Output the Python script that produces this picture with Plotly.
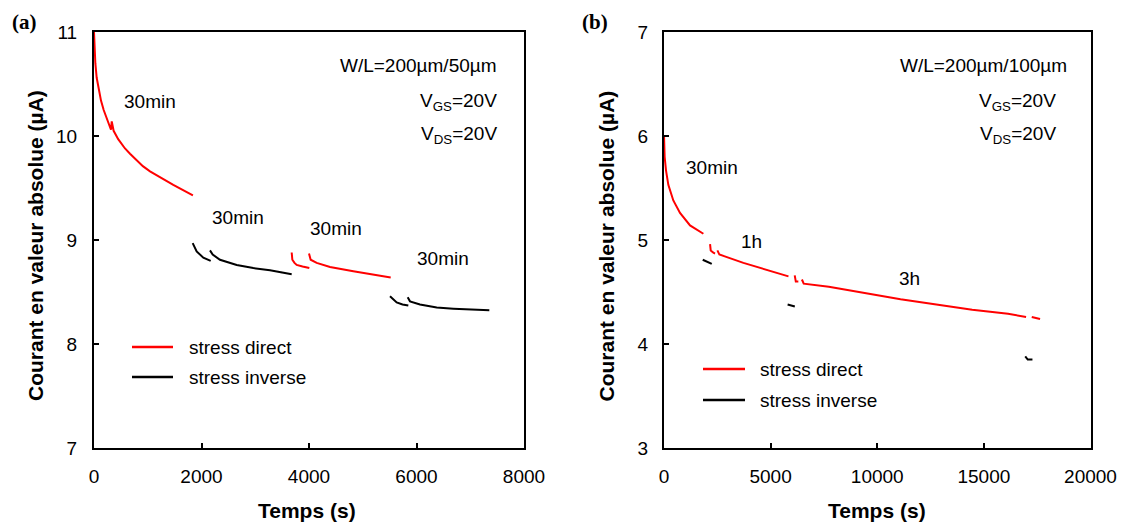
import plotly.graph_objects as go

W, H = 1122, 524

# ---------------- Panel (a) data: W/L = 200um/50um ----------------
a_direct_1_t = [0, 10, 25, 50, 80, 130, 180, 240, 316, 330, 345, 365, 450, 577, 670, 909, 1042, 1241, 1475, 1840]
a_direct_1_i = [11.0, 10.85, 10.70, 10.56, 10.46, 10.34, 10.25, 10.16, 10.06, 10.14, 10.09, 10.05, 9.97, 9.88, 9.83, 9.71, 9.66, 9.60, 9.53, 9.43]
a_direct_2_t = [3678, 3690, 3730, 3771, 3880, 4006]
a_direct_2_i = [8.88, 8.81, 8.78, 8.76, 8.745, 8.73]
a_direct_3_t = [4000, 4031, 4143, 4391, 4825, 5135, 5520]
a_direct_3_i = [8.87, 8.81, 8.78, 8.74, 8.70, 8.67, 8.64]

a_inverse_1_t = [1836, 1870, 1910, 2034, 2171]
a_inverse_1_i = [8.97, 8.93, 8.89, 8.83, 8.80]
a_inverse_2_t = [2158, 2208, 2344, 2655, 2964, 3274, 3678]
a_inverse_2_i = [8.90, 8.86, 8.81, 8.76, 8.73, 8.71, 8.67]
a_inverse_3_t = [5507, 5570, 5631, 5740, 5848]
a_inverse_3_i = [8.46, 8.43, 8.40, 8.38, 8.37]
a_inverse_4_t = [5836, 5879, 6065, 6376, 6686, 6996, 7355]
a_inverse_4_i = [8.45, 8.41, 8.38, 8.35, 8.34, 8.33, 8.325]

# ---------------- Panel (b) data: W/L = 200um/100um ----------------
b_direct_1_t = [0, 30, 94, 203, 437, 751, 1221, 1847]
b_direct_1_i = [6.01, 5.80, 5.67, 5.53, 5.38, 5.26, 5.14, 5.06]
b_direct_2_t = [2160, 2191, 2300, 2394]
b_direct_2_i = [4.96, 4.90, 4.88, 4.87]
b_direct_3_t = [2503, 2597, 3724, 4977, 5837]
b_direct_3_i = [4.90, 4.86, 4.78, 4.70, 4.65]
b_direct_4_t = [6130, 6181, 6300]
b_direct_4_i = [4.66, 4.60, 4.60]
b_direct_5_t = [6467, 6552, 7729, 9413, 11092, 12771, 14453, 16134, 16979]
b_direct_5_i = [4.62, 4.58, 4.55, 4.49, 4.43, 4.38, 4.33, 4.29, 4.26]
b_direct_6_t = [17245, 17635]
b_direct_6_i = [4.26, 4.24]

b_inverse_1_t = [1816, 2030, 2239]
b_inverse_1_i = [4.81, 4.79, 4.77]
b_inverse_2_t = [5797, 5960, 6134]
b_inverse_2_i = [4.38, 4.37, 4.36]
b_inverse_3_t = [16940, 17000, 17057, 17278]
b_inverse_3_i = [3.88, 3.86, 3.85, 3.85]

# ---------------- labels ----------------
x_title = "Temps (s)"
y_title = "Courant en valeur absolue (µA)"
legend_names = ["stress direct", "stress inverse"]
a_wl = "W/L=200µm/50µm"
b_wl = "W/L=200µm/100µm"
vgs = "V<sub>GS</sub>=20V"
vds = "V<sub>DS</sub>=20V"
a_durations = ["30min", "30min", "30min", "30min"]
a_duration_t = [1042, 2688, 4497, 6484]
a_duration_i = [10.33, 9.22, 9.11, 8.82]
b_durations = ["30min", "1h", "3h"]
b_duration_t = [2254, 4085, 11503]
b_duration_i = [5.70, 4.99, 4.63]

RED = "#ff0000"
BLACK = "#000000"
FONT = "Liberation Sans, Arial, sans-serif"


def join(segs):
    xs, ys = [], []
    for t, i in segs:
        if xs:
            xs.append(None)
            ys.append(None)
        xs.extend(t)
        ys.extend(i)
    return xs, ys


fig = go.Figure()

ax, ay = join([(a_direct_1_t, a_direct_1_i), (a_direct_2_t, a_direct_2_i), (a_direct_3_t, a_direct_3_i)])
fig.add_trace(go.Scatter(x=ax, y=ay, mode="lines", line=dict(color=RED, width=2), name=legend_names[0],
                         xaxis="x", yaxis="y", showlegend=False, connectgaps=False))
ax, ay = join([(a_inverse_1_t, a_inverse_1_i), (a_inverse_2_t, a_inverse_2_i),
               (a_inverse_3_t, a_inverse_3_i), (a_inverse_4_t, a_inverse_4_i)])
fig.add_trace(go.Scatter(x=ax, y=ay, mode="lines", line=dict(color=BLACK, width=2), name=legend_names[1],
                         xaxis="x", yaxis="y", showlegend=False, connectgaps=False))

bx, by = join([(b_direct_1_t, b_direct_1_i), (b_direct_2_t, b_direct_2_i), (b_direct_3_t, b_direct_3_i),
               (b_direct_4_t, b_direct_4_i), (b_direct_5_t, b_direct_5_i), (b_direct_6_t, b_direct_6_i)])
fig.add_trace(go.Scatter(x=bx, y=by, mode="lines", line=dict(color=RED, width=2), name=legend_names[0],
                         xaxis="x2", yaxis="y2", showlegend=False, connectgaps=False))
bx, by = join([(b_inverse_1_t, b_inverse_1_i), (b_inverse_2_t, b_inverse_2_i), (b_inverse_3_t, b_inverse_3_i)])
fig.add_trace(go.Scatter(x=bx, y=by, mode="lines", line=dict(color=BLACK, width=2), name=legend_names[1],
                         xaxis="x2", yaxis="y2", showlegend=False, connectgaps=False))


def px(x):
    return x / W


def py(y):
    return 1 - y / H


axis_common = dict(showline=True, linecolor="black", linewidth=2, mirror=True, ticks="inside", ticklen=5,
                   tickwidth=1.5, tickcolor="black", showgrid=False, zeroline=False, automargin=False,
                   tickformat="d",
                   tickfont=dict(family=FONT, size=19, color="black"))

fig.update_layout(
    template="none",
    width=W, height=H, autosize=False, margin=dict(l=0, r=0, t=0, b=0, pad=0),
    paper_bgcolor="white", plot_bgcolor="white",
    xaxis=dict(domain=[px(94), px(524)], range=[0, 8000], dtick=2000, anchor="y", ticklabelstandoff=10,
               **axis_common),
    yaxis=dict(domain=[py(448), py(32)], range=[7, 11], dtick=1, anchor="x", ticklabelstandoff=11,
               **axis_common),
    xaxis2=dict(domain=[px(664), px(1090.5)], range=[0, 20000], dtick=5000, anchor="y2", ticklabelstandoff=10,
                **axis_common),
    yaxis2=dict(domain=[py(448), py(32)], range=[3, 7], dtick=1, anchor="x2", ticklabelstandoff=10,
                **axis_common),
)

ann = []
txtfont = dict(family=FONT, size=19, color="black")
boldfont = dict(family=FONT, size=21, color="black", weight="bold")

# axis titles
for xc in (307, 877):
    ann.append(dict(text=x_title, x=px(xc), y=py(510), xref="paper", yref="paper", showarrow=False,
                    font=boldfont, xanchor="center", yanchor="middle"))
for xc in (36, 606.5):
    ann.append(dict(text=y_title, x=px(xc), y=py(246), xref="paper", yref="paper", showarrow=False,
                    font=boldfont, textangle=-90, xanchor="center", yanchor="middle"))
# panel letters
serif = dict(family="Liberation Serif, Times New Roman, serif", size=21, color="black", weight="bold")
ann.append(dict(text="(a)", x=px(10), y=py(22), xref="paper", yref="paper", showarrow=False,
                font=serif, xanchor="left", yanchor="middle"))
ann.append(dict(text="(b)", x=px(580), y=py(22), xref="paper", yref="paper", showarrow=False,
                font=serif, xanchor="left", yanchor="middle"))

# panel (a) texts
ann.append(dict(text=a_wl, x=7535, y=10.68, xref="x", yref="y", showarrow=False, font=txtfont,
                xanchor="right", yanchor="middle"))
ann.append(dict(text=vgs, x=7535, y=10.33, xref="x", yref="y", showarrow=False, font=txtfont,
                xanchor="right", yanchor="middle"))
ann.append(dict(text=vds, x=7535, y=10.01, xref="x", yref="y", showarrow=False, font=txtfont,
                xanchor="right", yanchor="middle"))
for s, t, i in zip(a_durations, a_duration_t, a_duration_i):
    ann.append(dict(text=s, x=t, y=i, xref="x", yref="y", showarrow=False, font=txtfont,
                    xanchor="center", yanchor="middle"))

# panel (b) texts
ann.append(dict(text=b_wl, x=19014, y=6.68, xref="x2", yref="y2", showarrow=False, font=txtfont,
                xanchor="right", yanchor="middle"))
ann.append(dict(text=vgs, x=18498, y=6.33, xref="x2", yref="y2", showarrow=False, font=txtfont,
                xanchor="right", yanchor="middle"))
ann.append(dict(text=vds, x=18498, y=6.01, xref="x2", yref="y2", showarrow=False, font=txtfont,
                xanchor="right", yanchor="middle"))
for s, t, i in zip(b_durations, b_duration_t, b_duration_i):
    ann.append(dict(text=s, x=t, y=i, xref="x2", yref="y2", showarrow=False, font=txtfont,
                    xanchor="center", yanchor="middle"))

# custom legends
shapes = []
legend_pos = [
    # (line x0, line x1, text x, y red, y black)
    (132, 173, 187, 347, 377),
    (703, 745, 758, 369, 400),
]
for (x0, x1, xt, yr, yb) in legend_pos:
    for yy, col, name in ((yr, RED, legend_names[0]), (yb, BLACK, legend_names[1])):
        shapes.append(dict(type="line", xref="paper", yref="paper", x0=px(x0), x1=px(x1), y0=py(yy), y1=py(yy),
                           line=dict(color=col, width=2.5)))
        ann.append(dict(text=name, x=px(xt), y=py(yy), xref="paper", yref="paper", showarrow=False,
                        font=txtfont, xanchor="left", yanchor="middle"))

fig.update_layout(annotations=ann, shapes=shapes)

post = ("document.documentElement.style.margin='0';document.body.style.margin='0';"
        "document.documentElement.style.overflow='hidden';document.body.style.overflow='hidden';")
fig.write_html("out.html", post_script=post, config={"displayModeBar": False})
